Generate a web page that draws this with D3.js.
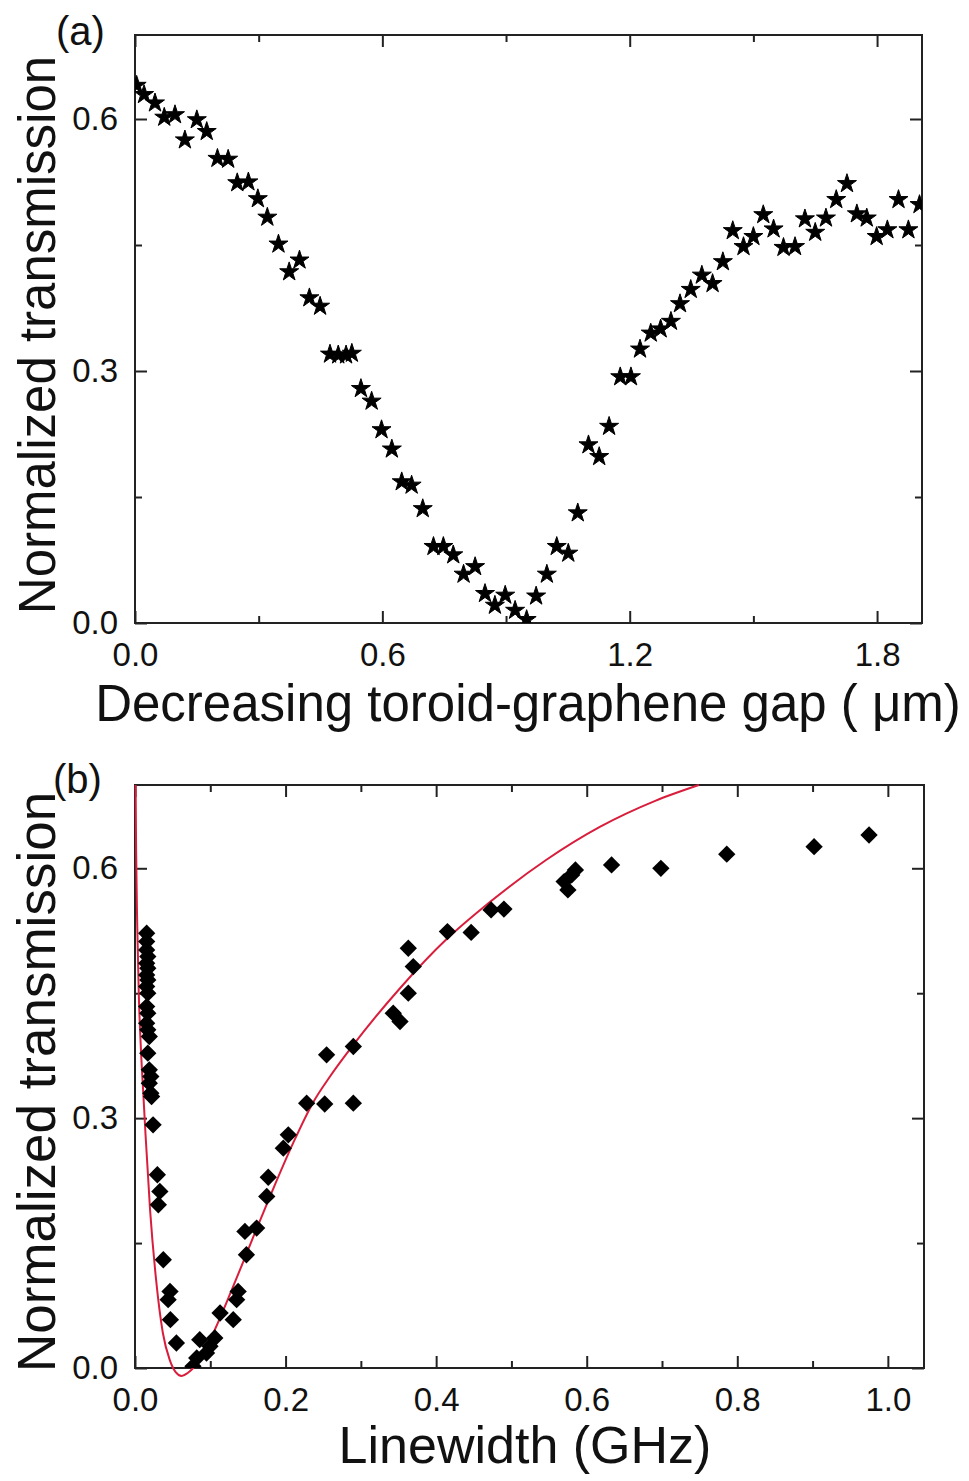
<!DOCTYPE html>
<html>
<head>
<meta charset="utf-8">
<script src="https://cdn.jsdelivr.net/npm/d3@7"></script>
<style>
  body { margin: 0; background: #fff; }
  text { font-family: "Liberation Sans", Arial, sans-serif; fill: #111; }
</style>
</head>
<body>
<svg id="chart"></svg>
<script>
// (a) transmission vs decreasing gap (stars)
const gapX = [0.004, 0.022, 0.0485, 0.071, 0.097, 0.121, 0.150, 0.174, 0.200, 0.226, 0.248, 0.275, 0.298, 0.321, 0.348, 0.374, 0.399, 0.423, 0.449,
  0.473, 0.493, 0.512, 0.526, 0.548, 0.574, 0.598, 0.623, 0.647, 0.671, 0.698, 0.724, 0.748, 0.772, 0.797, 0.825, 0.849, 0.873, 0.898, 0.922, 0.950,
  0.973, 0.999, 1.023, 1.051, 1.074, 1.100, 1.126, 1.150, 1.177, 1.203, 1.225, 1.251, 1.275, 1.300, 1.322, 1.348, 1.375, 1.401, 1.426, 1.450,
  1.476, 1.500, 1.524, 1.549, 1.573, 1.601, 1.625, 1.650, 1.676, 1.701, 1.727, 1.751, 1.775, 1.799, 1.825, 1.852, 1.876, 1.903];
const gapT = [0.640, 0.629, 0.619, 0.602, 0.605, 0.575, 0.599, 0.585, 0.553, 0.552, 0.524, 0.525, 0.505, 0.483, 0.451, 0.418, 0.432, 0.387, 0.377,
  0.320, 0.319, 0.319, 0.321, 0.279, 0.264, 0.230, 0.207, 0.168, 0.164, 0.136, 0.091, 0.091, 0.081, 0.058, 0.067, 0.035, 0.021, 0.033, 0.015, 0.004,
  0.032, 0.058, 0.091, 0.083, 0.131, 0.212, 0.198, 0.234, 0.293, 0.293, 0.326, 0.345, 0.350, 0.359, 0.380, 0.397, 0.414, 0.404, 0.430, 0.467,
  0.448, 0.460, 0.486, 0.469, 0.447, 0.448, 0.481, 0.465, 0.482, 0.504, 0.523, 0.487, 0.482, 0.460, 0.468, 0.504, 0.468, 0.498];

// (b) transmission vs linewidth (diamonds)
const lwX = [0.0155, 0.0155, 0.0155, 0.017, 0.0155, 0.017, 0.0155, 0.017, 0.0155, 0.017, 0.0155, 0.017, 0.0155, 0.017, 0.019, 0.017, 0.019, 0.021, 0.019, 0.021,
  0.022, 0.024, 0.0297, 0.033, 0.031, 0.0376, 0.0465, 0.044, 0.047, 0.055,
  0.077, 0.082, 0.086, 0.095, 0.0996, 0.106, 0.113, 0.1305, 0.135, 0.137, 0.148, 0.146, 0.1616, 0.175, 0.177, 0.197, 0.2036,
  0.228, 0.252, 0.290, 0.2545, 0.290, 0.343, 0.352, 0.363, 0.3696, 0.363,
  0.415, 0.4465, 0.473, 0.490, 0.570, 0.575, 0.580, 0.585, 0.633, 0.6985, 0.786, 0.902, 0.975];
const lwT = [0.522, 0.512, 0.502, 0.494, 0.486, 0.480, 0.472, 0.466, 0.458, 0.450, 0.434, 0.426, 0.414, 0.406, 0.398, 0.378, 0.358, 0.350, 0.342, 0.330,
  0.326, 0.292, 0.232, 0.212, 0.196, 0.130, 0.092, 0.082, 0.058, 0.030,
  0.002, 0.012, 0.034, 0.018, 0.026, 0.036, 0.066, 0.058, 0.082, 0.092, 0.136, 0.164, 0.168, 0.206, 0.229, 0.264, 0.280,
  0.318, 0.317, 0.318, 0.376, 0.386, 0.426, 0.416, 0.450, 0.482, 0.504,
  0.524, 0.523, 0.550, 0.551, 0.584, 0.574, 0.592, 0.598, 0.604, 0.600, 0.617, 0.626, 0.640];

// fitted curve in (b)
const fitX = [0.0008, 0.0015, 0.003, 0.005, 0.008, 0.011, 0.014, 0.020, 0.028, 0.037, 0.046, 0.054, 0.062, 0.070, 0.086, 0.104, 0.130, 0.157,
  0.183, 0.210, 0.236, 0.259, 0.290, 0.352, 0.414, 0.468, 0.546, 0.618, 0.691, 0.749];
const fitT = [0.700, 0.620, 0.530, 0.450, 0.380, 0.330, 0.280, 0.190, 0.106, 0.042, 0.010, -0.005, -0.0096, -0.006, 0.010, 0.042, 0.097, 0.157,
  0.214, 0.270, 0.318, 0.350, 0.388, 0.456, 0.515, 0.557, 0.610, 0.650, 0.681, 0.700];

const gapMajor = [0, 0.6, 1.2, 1.8], gapMinor = [0.3, 0.9, 1.5];
const lwMajor = [0, 0.2, 0.4, 0.6, 0.8, 1.0], lwMinor = [0.1, 0.3, 0.5, 0.7, 0.9];
const tMajor = [0, 0.3, 0.6], tMinor = [0.15, 0.45];

const W = 969, H = 1481;
const svg = d3.select("#chart").attr("width", W).attr("height", H);
const fmt = d3.format(".1f");

function panel(opt) {
  const x = d3.scaleLinear().domain(opt.xDomain).range([opt.left, opt.right]);
  const y = d3.scaleLinear().domain([0, 0.7]).range([opt.bottom, opt.top]);
  const g = svg.append("g");

  g.append("clipPath").attr("id", opt.id + "clip")
    .append("rect")
    .attr("x", opt.left).attr("y", opt.top)
    .attr("width", opt.right - opt.left).attr("height", opt.bottom - opt.top);

  function ax(gen, tr, vals, size, labels) {
    const a = g.append("g").attr("transform", tr)
      .call(gen.tickValues(vals).tickSize(-size).tickSizeOuter(0)
        .tickFormat(labels ? fmt : ""));
    a.select(".domain").remove();
    a.selectAll(".tick line").attr("stroke", "#222").attr("stroke-width", 2);
    a.selectAll("text").style("font-size", "33px").attr("fill", "#111");
    return a;
  }
  // bottom / top / left / right, major + minor, inward
  const xb = ax(d3.axisBottom(x), `translate(0,${opt.bottom})`, opt.xMajor, 12, true);
  xb.selectAll("text").attr("dy", "0.71em").attr("y", 20);
  ax(d3.axisBottom(x), `translate(0,${opt.bottom})`, opt.xMinor, 7, false);
  ax(d3.axisTop(x), `translate(0,${opt.top})`, opt.xMajor, 12, false);
  ax(d3.axisTop(x), `translate(0,${opt.top})`, opt.xMinor, 7, false);
  const yl = ax(d3.axisLeft(y), `translate(${opt.left},0)`, tMajor, 12, true);
  yl.selectAll("text").attr("x", -17);
  ax(d3.axisLeft(y), `translate(${opt.left},0)`, tMinor, 7, false);
  ax(d3.axisRight(y), `translate(${opt.right},0)`, tMajor, 12, false);
  ax(d3.axisRight(y), `translate(${opt.right},0)`, tMinor, 7, false);

  g.append("rect")
    .attr("x", opt.left).attr("y", opt.top)
    .attr("width", opt.right - opt.left).attr("height", opt.bottom - opt.top)
    .attr("fill", "none").attr("stroke", "#222").attr("stroke-width", 2);

  // y title
  g.append("text")
    .attr("transform", `translate(55,${opt.yTitleMid}) rotate(-90)`)
    .style("text-anchor", "middle")
    .style("font-size", opt.yTitleSize + "px")
    .text("Normalized transmission");
  // x title
  g.append("text")
    .attr("x", opt.xTitleMid).attr("y", opt.xTitleY)
    .style("text-anchor", "middle")
    .style("font-size", opt.xTitleSize + "px")
    .text(opt.xTitle);
  // panel letter
  g.append("text")
    .attr("x", opt.letterX).attr("y", opt.letterY)
    .style("font-size", "40px")
    .text(opt.letter);

  return { x, y, g };
}

// ---- panel (a)
const pa = panel({
  id: "a", left: 135, right: 922, top: 35, bottom: 623,
  xDomain: [0, 1.909], xMajor: gapMajor, xMinor: gapMinor,
  yTitleMid: 335, yTitleSize: 51,
  xTitle: "Decreasing toroid-graphene gap ( \u03bcm)", xTitleMid: 528, xTitleY: 721, xTitleSize: 51,
  letter: "(a)", letterX: 56, letterY: 45
});
pa.g.append("g").attr("clip-path", "url(#aclip)")
  .selectAll("path")
  .data(gapX.map((v, i) => [v, gapT[i]]))
  .enter()
  .append("path")
  .attr("d", d3.symbol(d3.symbolStar, 112))
  .attr("transform", d => `translate(${pa.x(d[0])},${pa.y(d[1])})`)
  .attr("fill", "#000")
  .attr("stroke", "#000")
  .attr("stroke-width", 1);

// ---- panel (b)
const pb = panel({
  id: "b", left: 135, right: 924, top: 785, bottom: 1368,
  xDomain: [0, 1.048], xMajor: lwMajor, xMinor: lwMinor,
  yTitleMid: 1082, yTitleSize: 53,
  xTitle: "Linewidth (GHz)", xTitleMid: 525, xTitleY: 1463, xTitleSize: 52,
  letter: "(b)", letterX: 53, letterY: 793
});
pb.g.append("path")
  .datum(fitX.map((v, i) => [v, fitT[i]]))
  .attr("d", d3.line().x(d => pb.x(d[0])).y(d => pb.y(d[1])).curve(d3.curveMonotoneX))
  .attr("fill", "none")
  .attr("stroke", "#d81e3c")
  .attr("stroke-width", 2);
pb.g.append("g").attr("clip-path", "url(#bclip)")
  .selectAll("path")
  .data(lwX.map((v, i) => [v, lwT[i]]))
  .enter()
  .append("path")
  .attr("d", d3.symbol(d3.symbolSquare, 150))
  .attr("transform", d => `translate(${pb.x(d[0])},${pb.y(d[1])}) rotate(45)`)
  .attr("fill", "#000");
</script>
</body>
</html>
